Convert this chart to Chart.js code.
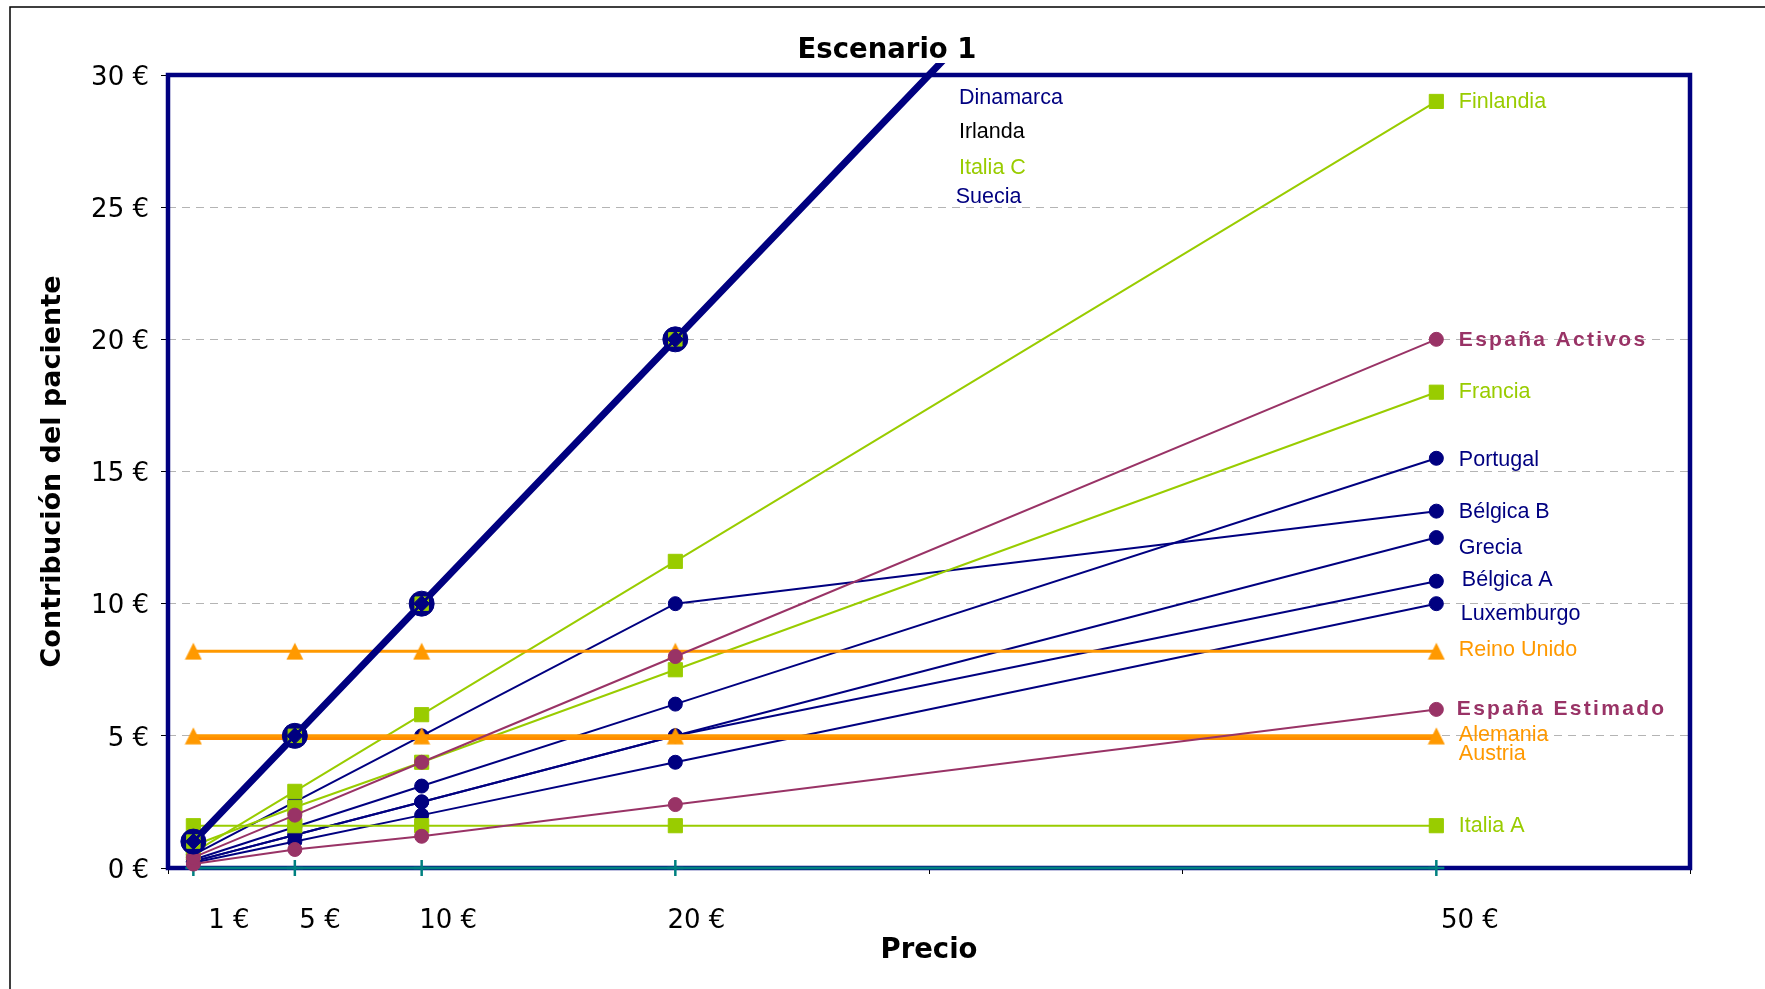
<!DOCTYPE html>
<html><head><meta charset="utf-8">
<script src="https://cdn.jsdelivr.net/npm/chart.js@4.4.0/dist/chart.umd.min.js"></script>
<style>html,body{margin:0;padding:0;background:#fff;}canvas{display:block;}</style>
</head><body>
<canvas id="c" width="1765" height="989"></canvas>
<script>
// ---------- DATA ----------
const precios = [1, 5, 10, 20, 50];
const etiquetasPrecio = ['1 €', '5 €', '10 €', '20 €', '50 €'];
const ticksY = [0, 5, 10, 15, 20, 25, 30];
const ticksX = [0, 10, 20, 30, 40, 50, 60];

const dinamarca      = [1, 5, 10, 20, 50];
const irlanda        = [1, 5, 10, 20, 50];
const italiaC        = [1, 5, 10, 20, 50];
const suecia         = [1, 5, 10, 20, 50];
const finlandia      = [0.58, 2.9, 5.8, 11.6, 29];
const francia        = [0.85, 2.3, 4.0, 7.5, 18];
const italiaA        = [1.6, 1.6, 1.6, 1.6, 1.6];
const espanaActivos  = [0.4, 2, 4, 8, 20];
const espanaEstimado = [0.15, 0.7, 1.2, 2.4, 6];
const portugal       = [0.31, 1.55, 3.1, 6.2, 15.5];
const belgicaB       = [0.5, 2.5, 5, 10, 13.5];
const grecia         = [0.25, 1.25, 2.5, 5, 12.5];
const belgicaA       = [0.25, 1.25, 2.5, 5, 10.85];
const luxemburgo     = [0.2, 1, 2, 4, 10];
const reinoUnido     = [8.2, 8.2, 8.2, 8.2, 8.2];
const alemania       = [5, 5, 5, 5, 5];
const austria        = [4.9, 4.9, 4.9, 4.9, 4.9];
const base           = [0, 0, 0, 0, 0];

// ---------- STYLE ----------
const NAVY = '#000080', GREEN = '#99CC00', MAROON = '#993366', ORANGE = '#FF9900', TEAL = '#008080';
const offsetsPrecio = [35.6, 25.2, 26.5, 21, 33.5];

// Excel-like triangle marker (base at bottom, centred on the point)
const triangulo = (function () {
  const c = document.createElement('canvas');
  c.width = 18; c.height = 18;
  const g = c.getContext('2d');
  g.fillStyle = ORANGE;
  g.beginPath();
  g.moveTo(9, 0.5); g.lineTo(17.5, 17.5); g.lineTo(0.5, 17.5);
  g.closePath();
  g.fill();
  return c;
})();

const pts = arr => precios.map((x, i) => ({x: x, y: arr[i]}));

function serie(label, arr, color, style, radius, width, tag, extra) {
  return Object.assign({
    label: label,
    data: pts(arr),
    borderColor: color,
    backgroundColor: color,
    borderWidth: width,
    pointStyle: style,
    pointRadius: radius,
    pointHoverRadius: radius,
    pointBackgroundColor: color,
    pointBorderColor: color,
    pointBorderWidth: 1,
    tension: 0,
    clip: false,
    tag: tag
  }, extra || {});
}

const clipDiag = {left: 0, top: 12, right: 0, bottom: 20};

// index 0 is drawn on top
const datasets = [
  serie('Suecia', suecia, NAVY, 'rectRot', 8, 3, {at: [31.05, 25.46], color: NAVY}, {clip: clipDiag}),
  serie('Italia C', italiaC, GREEN, 'rect', 9.5, 1.5, {at: [31.18, 26.53], color: GREEN}, {clip: clipDiag}),
  serie('Irlanda', irlanda, '#000000', 'circle', 0, 1.5, {at: [31.18, 27.89], color: '#000000'}, {clip: clipDiag}),
  serie('Dinamarca', dinamarca, NAVY, 'circle', 12.5, 7, {at: [31.18, 29.19], color: NAVY}, {clip: clipDiag}),
  serie('España Activos', espanaActivos, MAROON, 'circle', 7, 2, {dx: 22.5, dy: -0.5, bold: true}),
  serie('España Estimado', espanaEstimado, MAROON, 'circle', 7, 2, {dx: 20.5, dy: -2, bold: true}),
  serie('Alemania', alemania, ORANGE, triangulo, 9, 3, {dx: 22.5, dy: -3}),
  serie('Austria', austria, '#FF8C00', 'circle', 0, 3, {dx: 22.5, dy: 13.5, color: ORANGE}),
  serie('Reino Unido', reinoUnido, ORANGE, triangulo, 9, 3, {dx: 22.5, dy: -3}),
  serie('base', base, TEAL, 'cross', 8, 3, null, {pointBorderWidth: 2.5}),
  serie('Finlandia', finlandia, GREEN, 'rect', 10, 2, {dx: 22.5, dy: -1}),
  serie('Francia', francia, GREEN, 'rect', 10, 2, {dx: 22.5, dy: -2}),
  serie('Italia A', italiaA, GREEN, 'rect', 10, 2, {dx: 22.5, dy: -1}),
  serie('Portugal', portugal, NAVY, 'circle', 7, 2, {dx: 22.5, dy: 0}),
  serie('Bélgica B', belgicaB, NAVY, 'circle', 7, 2, {dx: 22.5, dy: -1}),
  serie('Grecia', grecia, NAVY, 'circle', 7, 2, {dx: 22.5, dy: 9}),
  serie('Bélgica A', belgicaA, NAVY, 'circle', 7, 2, {dx: 25.5, dy: -3}),
  serie('Luxemburgo', luxemburgo, NAVY, 'circle', 7, 2, {dx: 24.5, dy: 9})
];

const decor = {
  id: 'decor',
  beforeDraw(chart) {
    const ctx = chart.ctx;
    ctx.save();
    ctx.fillStyle = '#fff';
    ctx.fillRect(0, 0, chart.width, chart.height);
    ctx.strokeStyle = '#000';
    ctx.lineWidth = 1.5;
    ctx.strokeRect(10, 7, chart.width + 40, chart.height + 40);
    ctx.restore();
  },
  afterLayout(chart) {
    if (chart.titleBlock) {
      chart.titleBlock.left = 9;
      chart.titleBlock.right = chart.width;
    }
  },
  beforeDatasetsDraw(chart) {
    const a = chart.chartArea, ctx = chart.ctx;
    ctx.save();
    ctx.strokeStyle = NAVY;
    ctx.lineWidth = 4.5;
    ctx.strokeRect(a.left, a.top, a.right - a.left, a.bottom - a.top);
    ctx.restore();
  },
  afterDatasetsDraw(chart) {
    const ctx = chart.ctx, xs = chart.scales.x, ys = chart.scales.y;
    ctx.save();
    // price labels below the axis
    ctx.font = '26px "DejaVu Sans"';
    ctx.fillStyle = '#000';
    ctx.textAlign = 'center';
    ctx.textBaseline = 'alphabetic';
    const capD = 0.729 * 26 / 2;
    precios.forEach((p, i) => {
      ctx.fillText(etiquetasPrecio[i], xs.getPixelForValue(p) + offsetsPrecio[i], 919 + capD);
    });
    // series labels
    ctx.textAlign = 'left';
    chart.data.datasets.forEach(ds => {
      const t = ds.tag;
      if (!t) return;
      let x, y;
      if (t.at) {
        x = xs.getPixelForValue(t.at[0]);
        y = ys.getPixelForValue(t.at[1]);
      } else {
        const last = ds.data[ds.data.length - 1];
        x = xs.getPixelForValue(last.x) + t.dx;
        y = ys.getPixelForValue(last.y) + t.dy;
      }
      const size = t.bold ? 21 : 21.5;
      ctx.font = (t.bold ? 'bold ' : '') + size + 'px "Liberation Sans"';
      ctx.letterSpacing = t.bold ? '2.3px' : '0px';
      ctx.fillStyle = t.color || ds.borderColor;
      ctx.fillText(ds.label, x, y + 0.716 * size / 2);
    });
    ctx.letterSpacing = '0px';
    ctx.restore();
  }
};

Chart.defaults.font.family = '"DejaVu Sans"';
Chart.defaults.color = '#000';

new Chart(document.getElementById('c'), {
  type: 'line',
  data: {datasets: datasets},
  plugins: [decor],
  options: {
    responsive: false,
    animation: false,
    devicePixelRatio: 1,
    events: [],
    layout: {padding: {left: 0, right: 75, top: 0, bottom: 0}},
    plugins: {
      legend: {display: false},
      tooltip: {enabled: false},
      title: {
        display: true,
        text: 'Escenario 1',
        color: '#000',
        font: {family: '"DejaVu Sans"', size: 27.5, weight: 'bold', lineHeight: 1.2},
        padding: {top: 34.5, bottom: 7.5}
      }
    },
    scales: {
      x: {
        type: 'linear',
        min: 0, max: 60,
        afterBuildTicks: s => { s.ticks = ticksX.map(v => ({value: v})); },
        afterFit: s => { s.height = 121; },
        ticks: {display: false},
        grid: {drawOnChartArea: false, drawTicks: true, tickLength: 6, tickColor: '#000', tickWidth: 1, color: '#000'},
        border: {display: false},
        title: {
          display: true, text: 'Precio', color: '#000',
          font: {family: '"DejaVu Sans"', size: 27.5, weight: 'bold', lineHeight: 1.2},
          padding: {top: 0, bottom: 21.2}
        }
      },
      y: {
        type: 'linear',
        min: 0, max: 30,
        afterBuildTicks: s => { s.ticks = ticksY.map(v => ({value: v})); },
        afterFit: s => { s.width = 168; },
        ticks: {
          callback: v => v + ' €',
          font: {family: '"DejaVu Sans"', size: 26},
          color: '#000',
          padding: 12,
          labelOffset: 3
        },
        grid: {color: '#b4b4b4', lineWidth: 1, tickLength: 7, tickColor: '#000', tickWidth: 1, tickBorderDash: []},
        border: {display: false, dash: [8, 6]},
        title: {
          display: true, text: 'Contribución del paciente', color: '#000',
          font: {family: '"DejaVu Sans"', size: 27, weight: 'bold', lineHeight: 1.2},
          padding: {top: 36.8, bottom: 0}
        }
      }
    }
  }
});
</script>
</body></html>
